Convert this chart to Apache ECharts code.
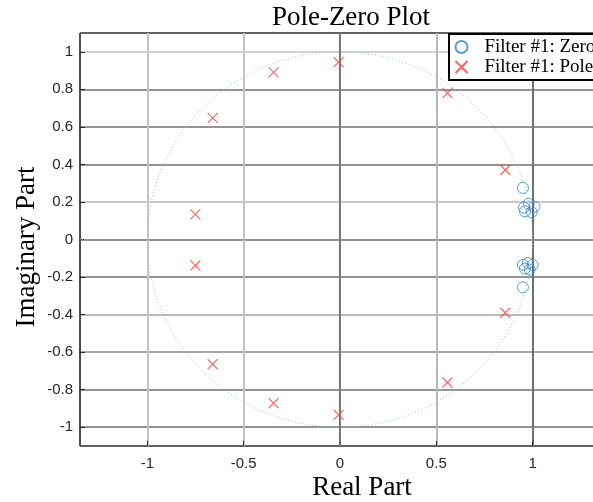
<!DOCTYPE html>
<html>
<head>
<meta charset="utf-8">
<script src="https://cdn.jsdelivr.net/npm/echarts@6/dist/echarts.min.js"></script>
<style>
  html, body { margin: 0; padding: 0; background: #fff; }
  #main { width: 593px; height: 502px; }
</style>
</head>
<body>
<div id="main"></div>
<script>
// zeros (real, imag)
var zeros = [
  [0.95, 0.275], [0.955, 0.17], [0.98, 0.19], [1.01, 0.175], [0.96, 0.15], [0.995, 0.145],
  [0.95, -0.255], [0.95, -0.135], [0.975, -0.125], [1.0, -0.135], [0.96, -0.155], [0.985, -0.16]
]
// poles (real, imag)
var poles = [
  [-0.345, 0.89], [-0.007, 0.945], [0.558, 0.78], [-0.661, 0.648], [0.858, 0.37], [-0.751, 0.134],
  [-0.751, -0.138], [0.858, -0.39], [-0.661, -0.664], [0.558, -0.762], [-0.345, -0.872], [-0.007, -0.934]
]
// unit circle: centre and radius
var unitCircle = [[0, 0, 1]]
var legendNames = ['Filter #1: Zero', 'Filter #1: Pole']

var xMin = -1.35, xMax = 1.35
var yMin = -1.1, yMax = 1.1

var chart = echarts.init(document.getElementById('main'))

var tickFont = {
  fontFamily: '"Liberation Sans", Arial, sans-serif',
  fontSize: 15,
  color: '#262626'
}

var option = {
  animation: false,
  backgroundColor: '#fff',
  grid: {
    left: 80,
    width: 520,
    top: 33,
    bottom: 56,
    outerBoundsMode: 'none',
    containLabel: false,
    show: true,
    borderColor: '#4d4d4d',
    borderWidth: 1,
    backgroundColor: 'transparent'
  },
  xAxis: {
    type: 'value',
    min: xMin,
    max: xMax,
    minInterval: 0.5,
    maxInterval: 0.5,
    axisLine: { show: false, onZero: false },
    axisTick: { show: true, inside: true, length: 5, lineStyle: { color: '#262626' } },
    axisLabel: Object.assign({ margin: 10, showMinLabel: false, showMaxLabel: false }, tickFont),
    splitLine: {
      show: true,
      lineStyle: {
        width: 2,
        color: ['#4d4d4d', '#c4c4c4', '#c4c4c4', '#707070', '#b8b8b8', '#707070', '#4d4d4d']
      }
    }
  },
  yAxis: {
    type: 'value',
    min: yMin,
    max: yMax,
    minInterval: 0.2,
    maxInterval: 0.2,
    axisLine: { show: false, onZero: false },
    axisTick: { show: true, inside: true, length: 5, lineStyle: { color: '#262626' } },
    axisLabel: Object.assign({ margin: 7, showMinLabel: false, showMaxLabel: false }, tickFont),
    splitLine: {
      show: true,
      lineStyle: {
        width: 1.5,
        color: ['#4d4d4d', '#707070', '#707070', '#8a8a8a', '#a0a0a0', '#707070', '#707070',
                '#b8b8b8', '#707070', '#707070', '#707070', '#c4c4c4', '#4d4d4d']
      }
    }
  },
  legend: {
    data: legendNames,
    orient: 'vertical',
    left: 449,
    top: 34,
    padding: [3, 14, 3, 4],
    itemGap: 0,
    itemWidth: 20,
    itemHeight: 12,
    borderColor: '#000',
    borderWidth: 2,
    backgroundColor: '#fff',
    textStyle: {
      fontFamily: '"Liberation Serif", "Times New Roman", serif',
      fontSize: 19,
      lineHeight: 20,
      color: '#000',
      padding: [0, 0, 0, 8]
    }
  },
  graphic: [
    {
      type: 'text', x: 351, y: 18,
      style: { text: 'Pole-Zero Plot', font: '27px "Liberation Serif"', fill: '#000', align: 'center', verticalAlign: 'middle' }
    },
    {
      type: 'text', x: 362, y: 488,
      style: { text: 'Real Part', font: '27px "Liberation Serif"', fill: '#000', align: 'center', verticalAlign: 'middle' }
    },
    {
      type: 'text', x: 27, y: 247, rotation: Math.PI / 2,
      style: { text: 'Imaginary Part', font: '27px "Liberation Serif"', fill: '#000', align: 'center', verticalAlign: 'middle' }
    }
  ],
  series: [
    {
      // unit circle
      type: 'custom',
      silent: true,
      data: unitCircle,
      renderItem: function (params, api) {
        var cx = api.value(0), cy = api.value(1), r = api.value(2)
        var pts = []
        for (var a = 0; a <= 360; a += 2) {
          var t = a * Math.PI / 180
          pts.push(api.coord([cx + r * Math.cos(t), cy + r * Math.sin(t)]))
        }
        return {
          type: 'polyline',
          shape: { points: pts },
          style: { stroke: '#8fc2ea', lineWidth: 1, lineDash: [1, 2.5], fill: null }
        }
      },
      z: 1
    },
    {
      name: legendNames[0],
      type: 'scatter',
      data: zeros,
      symbol: 'circle',
      symbolSize: 11,
      itemStyle: { color: 'none', borderColor: '#2f86c9', borderWidth: 1 },
      markLine: {
        silent: true,
        symbol: 'none',
        label: { show: false },
        lineStyle: { type: 'dotted', color: '#5a9fd6', width: 1 },
        data: [{ xAxis: 0 }, { yAxis: 0 }]
      },
      z: 3
    },
    {
      name: legendNames[1],
      type: 'scatter',
      data: poles,
      symbol: 'path://M0,0L10,10M10,0L0,10',
      symbolSize: 10,
      itemStyle: { color: 'none', borderColor: '#ff3b3b', borderWidth: 1.2 },
      z: 3
    }
  ]
}

chart.setOption(option)
</script>
</body>
</html>
